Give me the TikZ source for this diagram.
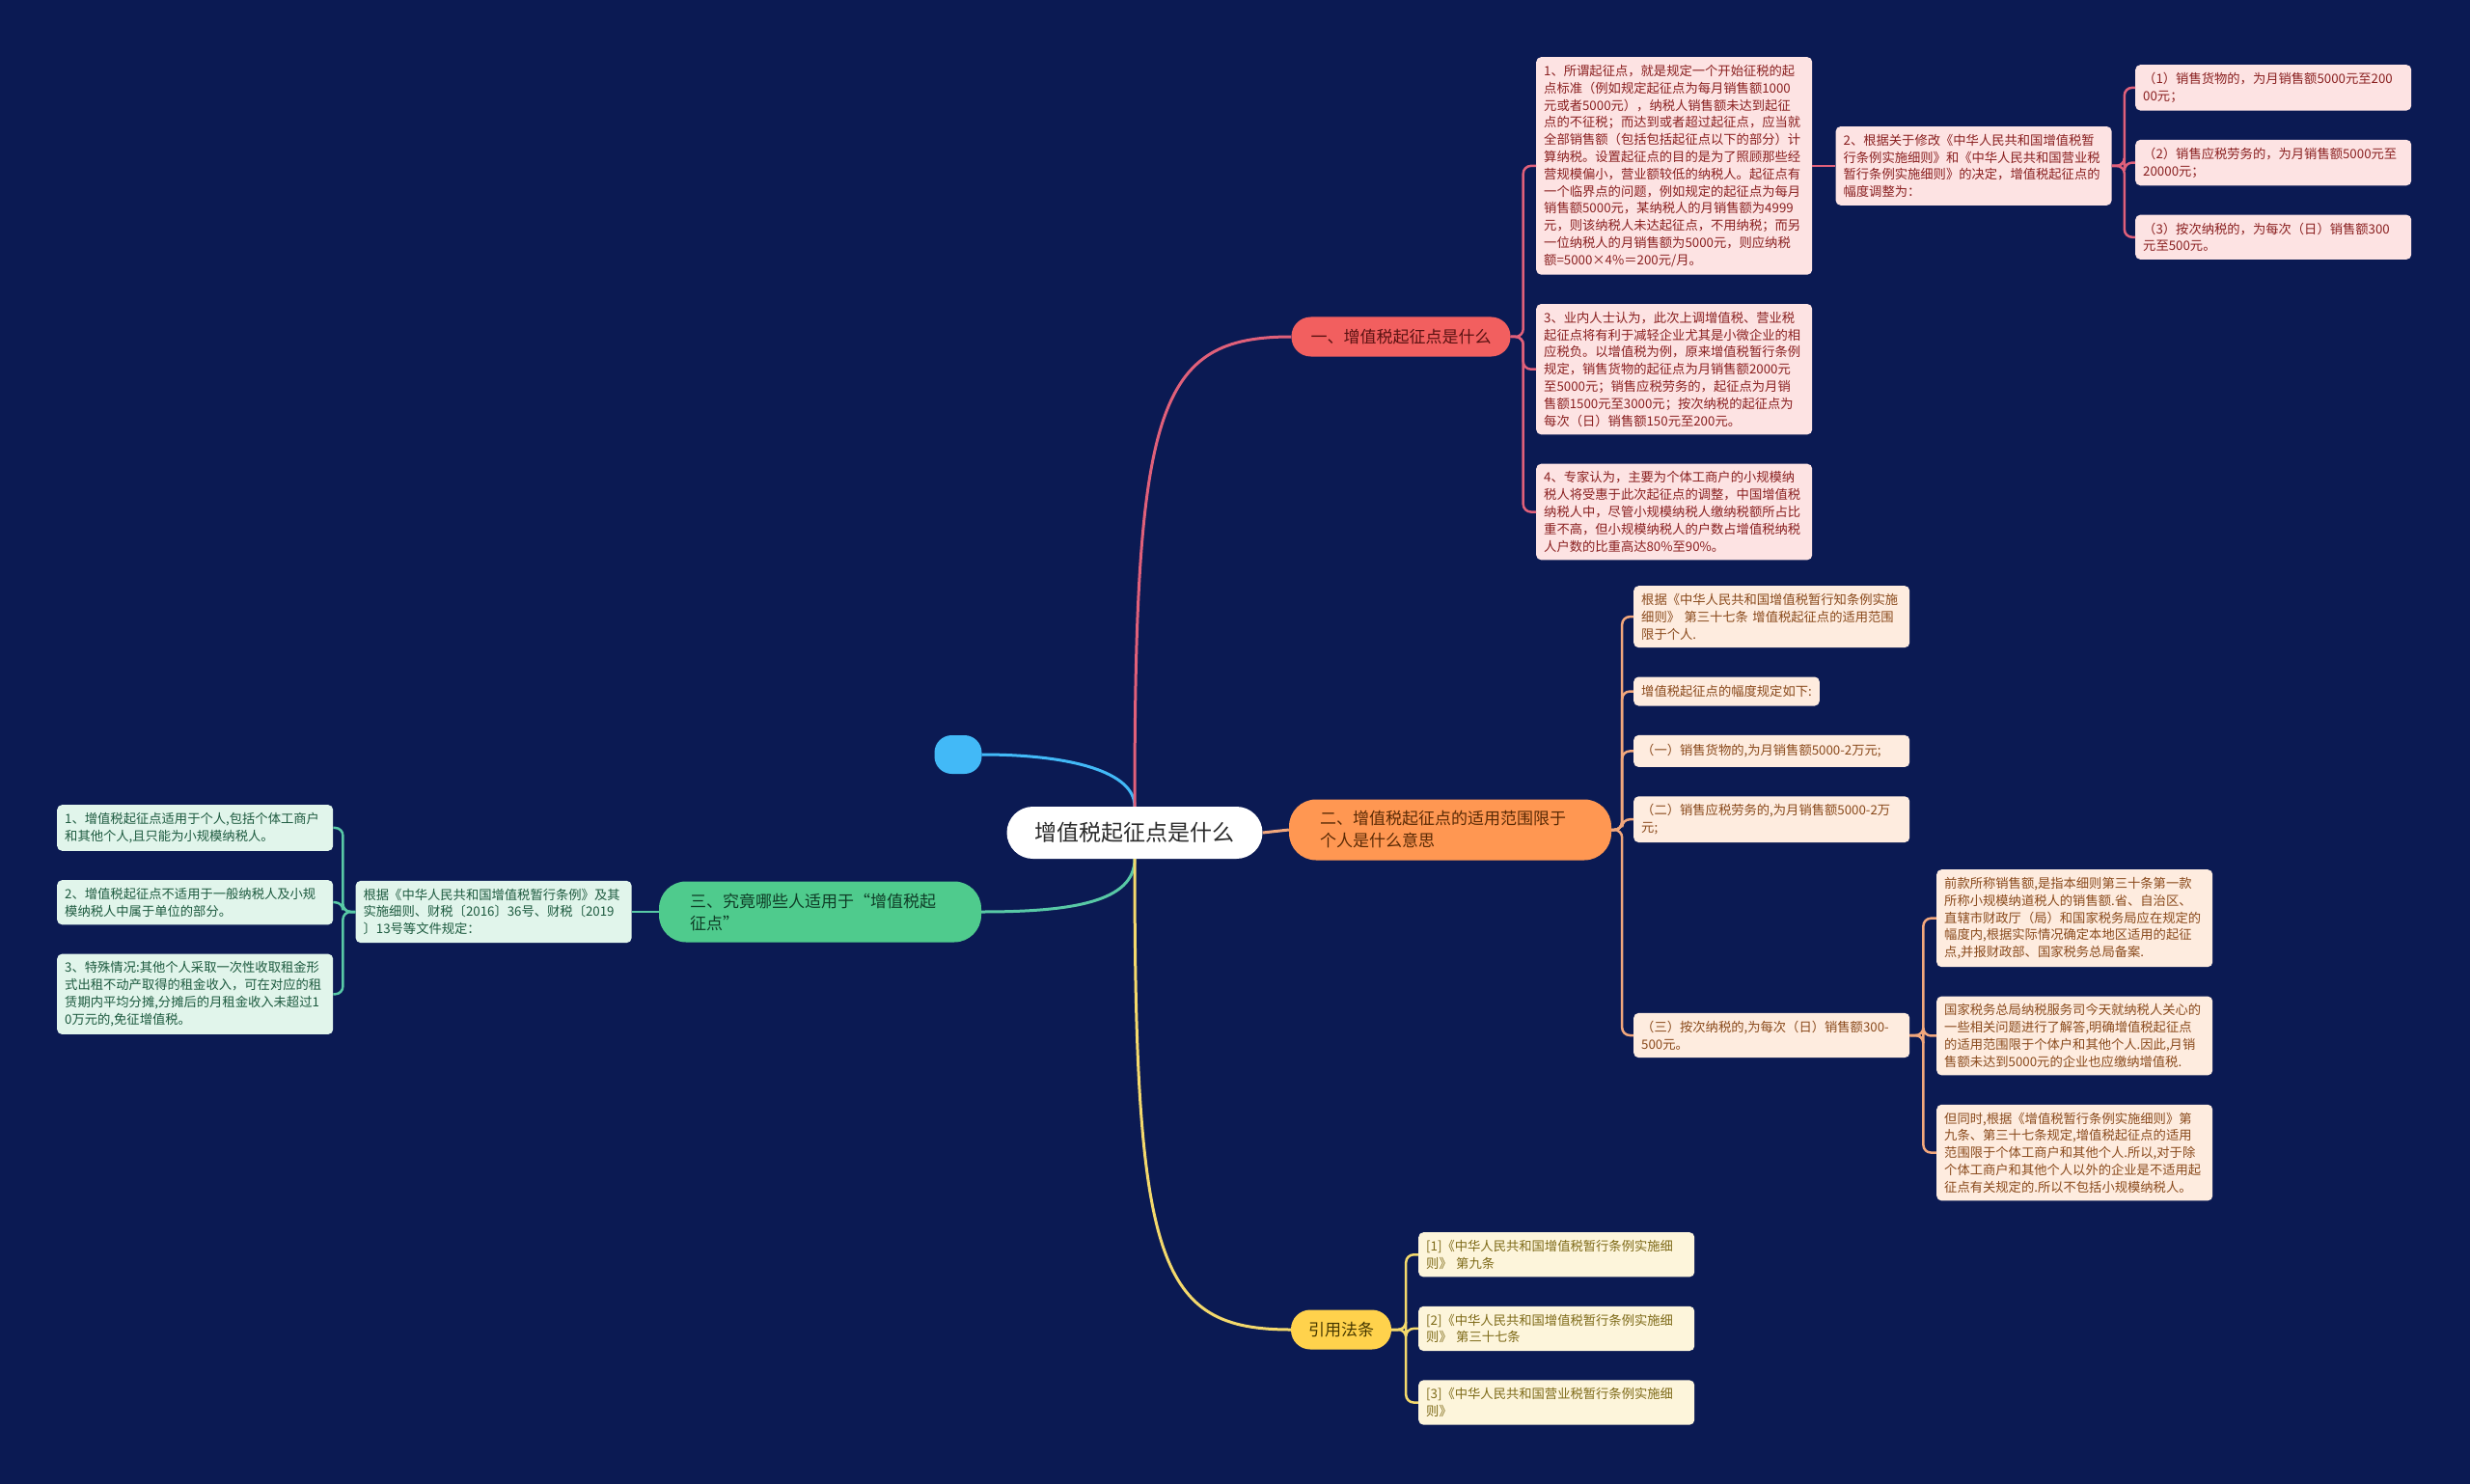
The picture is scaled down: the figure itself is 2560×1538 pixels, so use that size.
\documentclass[tikz,border=0pt]{standalone}
\usepackage{fontspec}
\setmainfont{Noto Sans CJK SC}
\usetikzlibrary{positioning}
\definecolor{pagebg}{HTML}{0B1A53}
\definecolor{roottext}{HTML}{2B2B2B}
\definecolor{dotfill}{HTML}{42B9F7}
\definecolor{redpill}{HTML}{F25F5F}
\definecolor{redpilltext}{HTML}{5A1212}
\definecolor{redleaf}{HTML}{FDE3E3}
\definecolor{redleaftext}{HTML}{8A2020}
\definecolor{redline}{HTML}{E0607A}
\definecolor{orangepill}{HTML}{FF9752}
\definecolor{orangepilltext}{HTML}{5A2A05}
\definecolor{orangeleaf}{HTML}{FEECDF}
\definecolor{orangeleaftext}{HTML}{8A4A1C}
\definecolor{orangeline}{HTML}{F2A77C}
\definecolor{greenpill}{HTML}{4FCB8D}
\definecolor{greenpilltext}{HTML}{0F3D27}
\definecolor{greenleaf}{HTML}{E1F5EB}
\definecolor{greenleaftext}{HTML}{1D5A3F}
\definecolor{greenline}{HTML}{58C9A6}
\definecolor{yellowpill}{HTML}{FFD24C}
\definecolor{yellowpilltext}{HTML}{463800}
\definecolor{yellowleaf}{HTML}{FDF5DB}
\definecolor{yellowleaftext}{HTML}{7E6A18}
\definecolor{yellowline}{HTML}{F4D96C}

\begin{document}
\begin{tikzpicture}[
  x=1pt, y=-1pt, node distance=30pt,
  root/.style={fill=white, rounded corners=27pt, minimum width=265pt, minimum height=54pt, font=\fontsize{23}{28}\selectfont, text=roottext},
  dot/.style={fill=dotfill, rounded corners=18pt, minimum width=49pt, minimum height=40pt},
  pill/.style={minimum height=41pt, rounded corners=20pt, inner xsep=20pt, font=\fontsize{17}{23}\selectfont},
  widepill/.style={pill, minimum height=63pt, rounded corners=28pt, inner xsep=32pt, text width=270pt, align=left},
  leaf/.style={rounded corners=5pt, text width=270pt, inner xsep=8pt, inner ysep=8pt, align=left, font=\fontsize{13.3}{17.8}\selectfont},
  shortleaf/.style={rounded corners=5pt, inner xsep=8pt, inner ysep=8pt, minimum height=30pt, align=left, font=\fontsize{13.3}{17.8}\selectfont},
  redbox/.style={leaf, fill=redleaf, text=redleaftext},
  orangebox/.style={leaf, fill=orangeleaf, text=orangeleaftext},
  greenbox/.style={leaf, fill=greenleaf, text=greenleaftext},
  yellowbox/.style={leaf, fill=yellowleaf, text=yellowleaftext},
  link/.style={line width=2.5pt, rounded corners=8pt},
  mainlink/.style={line width=3pt}
]
  \fill[pagebg] (0,0) rectangle (2560,1538);

  % centre and main branches
  \node[root] (root) at (1176,863) {增值税起征点是什么};
  \node[dot] (blob) at (993,782) {};
  \node[pill, fill=redpill, text=redpilltext] (b1) at (1452,349) {一、增值税起征点是什么};
  \node[widepill, fill=orangepill, text=orangepilltext] (b2) at (1503,860) {二、增值税起征点的适用范围限于\\个人是什么意思};
  \node[widepill, fill=greenpill, text=greenpilltext] (b3) at (850,945) {三、究竟哪些人适用于“增值税起\\征点"};
  \node[pill, fill=yellowpill, text=yellowpilltext, inner xsep=18pt] (b4) at (1390,1378) {引用法条};

  % branch one
  \node[redbox, anchor=north west] (a1) at (1592,59) {1、所谓起征点，就是规定一个开始征税的起\\点标准（例如规定起征点为每月销售额1000\\元或者5000元），纳税人销售额未达到起征\\点的不征税；而达到或者超过起征点，应当就\\全部销售额（包括包括起征点以下的部分）计\\算纳税。设置起征点的目的是为了照顾那些经\\营规模偏小，营业额较低的纳税人。起征点有\\一个临界点的问题，例如规定的起征点为每月\\销售额5000元，某纳税人的月销售额为4999\\元，则该纳税人未达起征点，不用纳税；而另\\一位纳税人的月销售额为5000元，则应纳税\\额=5000×4\%＝200元/月。};
  \node[redbox, right=24pt of a1] (a2) {2、根据关于修改《中华人民共和国增值税暂\\行条例实施细则》和《中华人民共和国营业税\\暂行条例实施细则》的决定，增值税起征点的\\幅度调整为：};
  \node[redbox, anchor=north west] (a21) at (2213,67) {（1）销售货物的，为月销售额5000元至200\\00元；};
  \node[redbox, below=of a21] (a22) {（2）销售应税劳务的，为月销售额5000元至\\20000元；};
  \node[redbox, below=of a22] (a23) {（3）按次纳税的，为每次（日）销售额300\\元至500元。};
  \node[redbox, below=of a1] (a3) {3、业内人士认为，此次上调增值税、营业税\\起征点将有利于减轻企业尤其是小微企业的相\\应税负。以增值税为例，原来增值税暂行条例\\规定，销售货物的起征点为月销售额2000元\\至5000元；销售应税劳务的，起征点为月销\\售额1500元至3000元；按次纳税的起征点为\\每次（日）销售额150元至200元。};
  \node[redbox, below=of a3] (a4) {4、专家认为，主要为个体工商户的小规模纳\\税人将受惠于此次起征点的调整，中国增值税\\纳税人中，尽管小规模纳税人缴纳税额所占比\\重不高，但小规模纳税人的户数占增值税纳税\\人户数的比重高达80\%至90\%。};

  % branch two
  \node[orangebox, anchor=north west] (b21) at (1693,607) {根据《中华人民共和国增值税暂行知条例实施\\细则》 第三十七条 增值税起征点的适用范围\\限于个人.};
  \node[shortleaf, fill=orangeleaf, text=orangeleaftext, below=of b21.south west, anchor=north west] (b22) {增值税起征点的幅度规定如下:};
  \node[orangebox, minimum height=33pt, below=of b22.south west, anchor=north west] (b23) {（一）销售货物的,为月销售额5000-2万元;};
  \node[orangebox, below=of b23] (b24) {（二）销售应税劳务的,为月销售额5000-2万\\元;};
  \node[orangebox, anchor=west] (b25) at (1693,1073) {（三）按次纳税的,为每次（日）销售额300-\\500元。};
  \node[orangebox, anchor=north west] (c1) at (2007,901) {前款所称销售额,是指本细则第三十条第一款\\所称小规模纳道税人的销售额.省、自治区、\\直辖市财政厅（局）和国家税务局应在规定的\\幅度内,根据实际情况确定本地区适用的起征\\点,并报财政部、国家税务总局备案.};
  \node[orangebox, below=of c1] (c2) {国家税务总局纳税服务司今天就纳税人关心的\\一些相关问题进行了解答,明确增值税起征点\\的适用范围限于个体户和其他个人.因此,月销\\售额未达到5000元的企业也应缴纳增值税.};
  \node[orangebox, below=of c2] (c3) {但同时,根据《增值税暂行条例实施细则》第\\九条、第三十七条规定,增值税起征点的适用\\范围限于个体工商户和其他个人.所以,对于除\\个体工商户和其他个人以外的企业是不适用起\\征点有关规定的.所以不包括小规模纳税人。};

  % branch three
  \node[greenbox, left=28pt of b3] (d) {根据《中华人民共和国增值税暂行条例》及其\\实施细则、财税〔2016〕36号、财税〔2019\\〕13号等文件规定：};
  \node[greenbox, anchor=north west] (e1) at (59,834) {1、增值税起征点适用于个人,包括个体工商户\\和其他个人,且只能为小规模纳税人。};
  \node[greenbox, below=of e1] (e2) {2、增值税起征点不适用于一般纳税人及小规\\模纳税人中属于单位的部分。};
  \node[greenbox, below=of e2] (e3) {3、特殊情况:其他个人采取一次性收取租金形\\式出租不动产取得的租金收入，可在对应的租\\赁期内平均分摊,分摊后的月租金收入未超过1\\0万元的,免征增值税。};

  % branch four
  \node[yellowbox, anchor=north west] (f1) at (1470,1277) {[1]《中华人民共和国增值税暂行条例实施细\\则》 第九条};
  \node[yellowbox, below=of f1] (f2) {[2]《中华人民共和国增值税暂行条例实施细\\则》 第三十七条};
  \node[yellowbox, below=of f2] (f3) {[3]《中华人民共和国营业税暂行条例实施细\\则》};

  % main connectors
  \draw[mainlink, dotfill] (blob.east) .. controls (1110,782) and (1176,800) .. (root.north);
  \draw[mainlink, redline] (root.north) .. controls (1176,420) and (1200,349) .. (b1.west);
  \draw[mainlink, orangeline] (root.east) -- (b2.west);
  \draw[mainlink, greenline] (root.south) .. controls (1176,935) and (1110,945) .. (b3.east);
  \draw[mainlink, yellowline] (root.south) .. controls (1176,1310) and (1200,1378) .. (b4.west);

  % tree links
  \draw[link, redline] (b1.east) -- ++(13,0) |- (a1.west);
  \draw[link, redline] (b1.east) -- ++(13,0) |- (a3.west);
  \draw[link, redline] (b1.east) -- ++(13,0) |- (a4.west);
  \draw[link, redline] (a1.east) -- (a2.west);
  \draw[link, redline] (a2.east) -- ++(13,0) |- (a21.west);
  \draw[link, redline] (a2.east) -- ++(13,0) |- (a22.west);
  \draw[link, redline] (a2.east) -- ++(13,0) |- (a23.west);
  \draw[link, orangeline] (b2.east) -- ++(11,0) |- (b21.west);
  \draw[link, orangeline] (b2.east) -- ++(11,0) |- (b22.west);
  \draw[link, orangeline] (b2.east) -- ++(11,0) |- (b23.west);
  \draw[link, orangeline] (b2.east) -- ++(11,0) |- (b24.west);
  \draw[link, orangeline] (b2.east) -- ++(11,0) |- (b25.west);
  \draw[link, orangeline] (b25.east) -- ++(14,0) |- (c1.west);
  \draw[link, orangeline] (b25.east) -- ++(14,0) |- (c2.west);
  \draw[link, orangeline] (b25.east) -- ++(14,0) |- (c3.west);
  \draw[link, greenline] (b3.west) -- (d.east);
  \draw[link, greenline] (d.west) -- ++(-13,0) |- (e1.east);
  \draw[link, greenline] (d.west) -- ++(-13,0) |- (e2.east);
  \draw[link, greenline] (d.west) -- ++(-13,0) |- (e3.east);
  \draw[link, yellowline] (b4.east) -- ++(15,0) |- (f1.west);
  \draw[link, yellowline] (b4.east) -- ++(15,0) |- (f2.west);
  \draw[link, yellowline] (b4.east) -- ++(15,0) |- (f3.west);
\end{tikzpicture}
\end{document}
